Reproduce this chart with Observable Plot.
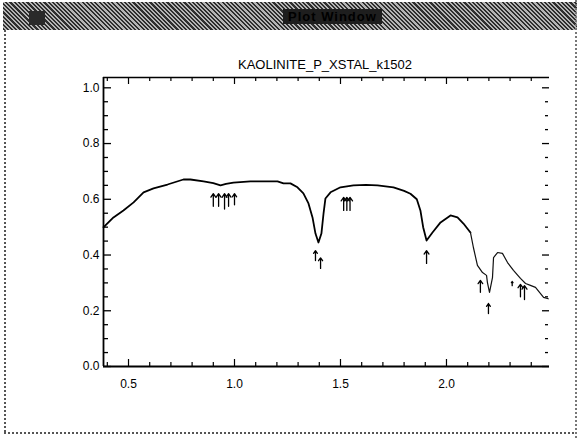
<!DOCTYPE html>
<html>
<head>
<meta charset="utf-8">
<script src="https://cdn.jsdelivr.net/npm/d3@7"></script>
<script src="https://cdn.jsdelivr.net/npm/@observablehq/plot@0.6"></script>
<style>
  html, body { margin: 0; padding: 0; background: #fff; }
  #wrap { position: relative; width: 579px; height: 438px; overflow: hidden; background: #fff; font-family: "Liberation Sans", Arial, sans-serif; }
  #bar { position: absolute; left: 3px; top: 2px; width: 574px; height: 28px;
    background: repeating-linear-gradient(45deg, #2e2e2e 0 1.5px, #b4b4b4 1.5px 3px); }
  #bar .icon { position: absolute; left: 26px; top: 9px; width: 16px; height: 14px; background: #2a2a2a; }
  #bar .name { position: absolute; left: 280px; top: 7px; font-weight: bold; font-size: 13px; color: #000; background: #1e1e1e; padding: 0 5px; letter-spacing: 1px; }
  #edgeL { position: absolute; left: 4px; top: 30px; height: 402px; border-left: 2px dotted #555; }
  #edgeB { position: absolute; left: 4px; top: 432px; width: 570px; border-top: 2px dotted #555; }
  #edgeR { position: absolute; left: 575px; top: 0; height: 438px; border-left: 2px dotted #777; }
  #title { position: absolute; left: 0; width: 650px; top: 57px; text-align: center; font-size: 13px; color: #000; }
  #chart { position: absolute; left: 0; top: 0; }
</style>
</head>
<body>
<div id="wrap">
  <div id="chart"></div>
  <div id="bar"><div class="icon"></div><div class="name">Plot Window</div></div>
  <div id="edgeL"></div><div id="edgeB"></div><div id="edgeR"></div>
  <div id="title">KAOLINITE_P_XSTAL_k1502</div>
</div>
<script>
// Spectrum: wavelength (µm) and reflectance
const wavelength = [0.382, 0.391, 0.429, 0.476, 0.524, 0.571, 0.618, 0.684, 0.759, 0.792, 0.854, 0.900, 0.934, 0.960, 0.995, 1.075, 1.108, 1.203, 1.231, 1.264, 1.297, 1.325, 1.349, 1.368, 1.382, 1.396, 1.410, 1.420, 1.429, 1.453, 1.500, 1.561, 1.620, 1.675, 1.750, 1.800, 1.830, 1.860, 1.877, 1.890, 1.906, 1.934, 1.972, 2.019, 2.052, 2.080, 2.113, 2.127, 2.146, 2.170, 2.189, 2.193, 2.203, 2.217, 2.222, 2.241, 2.264, 2.288, 2.316, 2.349, 2.373, 2.396, 2.420, 2.458, 2.480];
const reflectance = [0.500, 0.506, 0.535, 0.560, 0.589, 0.625, 0.639, 0.653, 0.671, 0.671, 0.664, 0.658, 0.650, 0.655, 0.660, 0.664, 0.664, 0.664, 0.657, 0.657, 0.643, 0.621, 0.585, 0.535, 0.477, 0.445, 0.477, 0.549, 0.603, 0.625, 0.643, 0.650, 0.652, 0.650, 0.643, 0.630, 0.620, 0.600, 0.560, 0.500, 0.452, 0.481, 0.517, 0.542, 0.535, 0.513, 0.481, 0.427, 0.363, 0.337, 0.327, 0.302, 0.266, 0.319, 0.391, 0.409, 0.406, 0.373, 0.345, 0.316, 0.298, 0.291, 0.284, 0.248, 0.243];

// Feature arrows
const arrowX    = [0.900, 0.925, 0.953, 0.972, 1.000, 1.382, 1.406, 1.515, 1.530, 1.545, 1.906, 2.160, 2.198, 2.310, 2.349, 2.368];
const arrowTip  = [0.620, 0.620, 0.620, 0.620, 0.620, 0.416, 0.390, 0.607, 0.607, 0.607, 0.416, 0.309, 0.226, 0.305, 0.295, 0.290];
const arrowTail = [0.575, 0.575, 0.565, 0.575, 0.580, 0.380, 0.352, 0.560, 0.560, 0.560, 0.370, 0.266, 0.190, 0.290, 0.250, 0.240];

// Axis ticks / labels
const xLabels = [0.5, 1.0, 1.5, 2.0];
const xMinor = [0.4, 0.6, 0.7, 0.8, 0.9, 1.1, 1.2, 1.3, 1.4, 1.6, 1.7, 1.8, 1.9, 2.1, 2.2, 2.3, 2.4];
const yLabels = [0.0, 0.2, 0.4, 0.6, 0.8, 1.0];
const yMinor = [0.05, 0.1, 0.15, 0.25, 0.3, 0.35, 0.45, 0.5, 0.55, 0.65, 0.7, 0.75, 0.85, 0.9, 0.95];

const spectrum = wavelength.map((w, i) => ({w, r: reflectance[i]}));
const arrows = arrowX.map((x, i) => ({x, tip: arrowTip[i], tail: arrowTail[i]}));

const W = 579, H = 438, mt = 77, mr = 30, mb = 72, ml = 103;
const fw = W - ml - mr, fh = H - mt - mb;
const xDom = [0.382, 2.486], yDom = [0, 1.037];

const plot = Plot.plot({
  width: W, height: H,
  marginTop: mt, marginRight: mr, marginBottom: mb, marginLeft: ml,
  x: {domain: xDom},
  y: {domain: yDom},
  style: {fontFamily: "'Liberation Sans', Arial, sans-serif", background: "transparent"},
  marks: [
    // frame (left, top, bottom)
    Plot.ruleX([xDom[0]], {stroke: "#000", strokeWidth: 1.8}),
    Plot.ruleY([yDom[0]], {stroke: "#000", strokeWidth: 1.8}),
    Plot.ruleY([yDom[1]], {stroke: "#000", strokeWidth: 1.6}),
    // bottom ticks
    Plot.tickX(xMinor, {x: d => d, insetTop: fh - 4, stroke: "#000", strokeWidth: 1.2}),
    Plot.tickX(xLabels, {x: d => d, insetTop: fh - 7, stroke: "#000", strokeWidth: 1.2}),
    // top ticks
    Plot.tickX(xMinor, {x: d => d, insetBottom: fh - 4, stroke: "#000", strokeWidth: 1.2}),
    Plot.tickX(xLabels, {x: d => d, insetBottom: fh - 7, stroke: "#000", strokeWidth: 1.2}),
    // left ticks
    Plot.tickY(yMinor, {y: d => d, insetRight: fw - 5, stroke: "#000", strokeWidth: 1.3}),
    Plot.tickY(yLabels, {y: d => d, insetRight: fw - 8, stroke: "#000", strokeWidth: 1.3}),
    // right ticks
    Plot.tickY(yMinor, {y: d => d, insetLeft: fw - 4, insetRight: 1, stroke: "#000", strokeWidth: 1.3}),
    Plot.tickY(yLabels, {y: d => d, insetLeft: fw - 7, stroke: "#000", strokeWidth: 1.3}),
    Plot.axisX(xLabels, {tickSize: 0, tickPadding: 13, fontSize: 12, tickFormat: d3.format(".1f"), color: "#000"}),
    Plot.axisY(yLabels, {tickSize: 0, tickPadding: 4, fontSize: 12, tickFormat: d3.format(".1f"), color: "#000"}),
    // spectrum
    Plot.line(spectrum.filter(d => d.w <= 2.113), {x: "w", y: "r", stroke: "#000", strokeWidth: 1.8}),
    Plot.line(spectrum.filter(d => d.w >= 2.113), {x: "w", y: "r", stroke: "#111", strokeWidth: 1.2}),
    // arrows
    Plot.arrow(arrows, {x1: "x", y1: "tail", x2: "x", y2: "tip", stroke: "#000", strokeWidth: 1.3, headLength: 5, headAngle: 70})
  ]
});
document.getElementById("chart").appendChild(plot);
</script>
</body>
</html>
